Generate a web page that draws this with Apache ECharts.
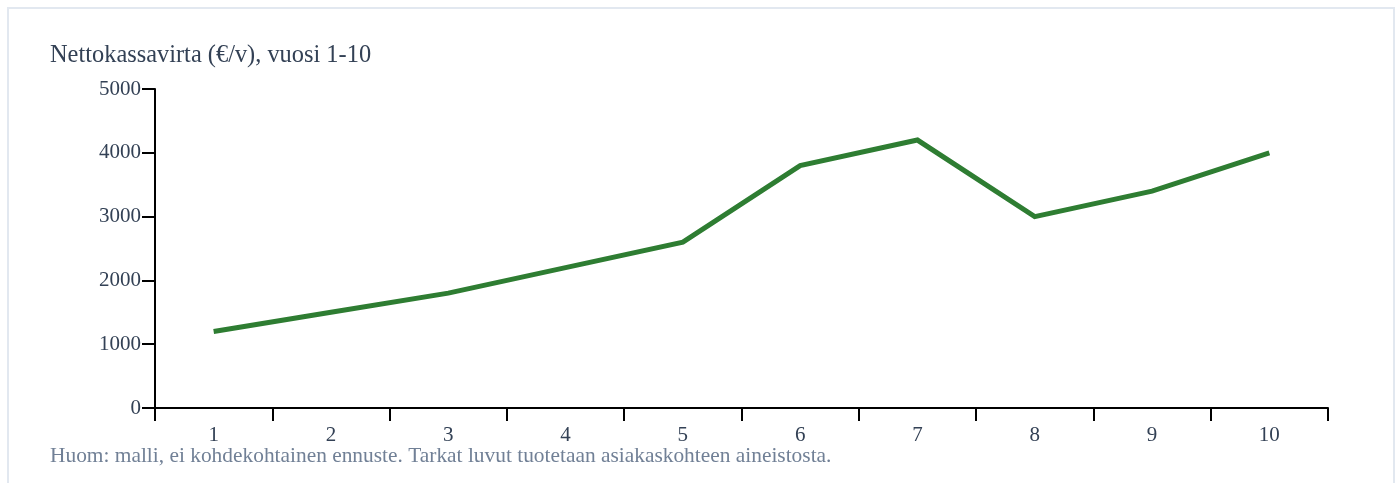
<!DOCTYPE html>
<html>
<head>
<meta charset="utf-8">
<script src="https://cdn.jsdelivr.net/npm/echarts@6/dist/echarts.min.js"></script>
<style>
html,body{margin:0;padding:0;background:#fff;width:1398px;height:483px;overflow:hidden;}
#frame{position:absolute;left:7px;top:7px;width:1384px;height:520px;border:2px solid #e2e8f0;box-sizing:content-box;}
#chart{position:absolute;left:0;top:0;width:1398px;height:483px;}
</style>
</head>
<body>
<div id="frame"></div>
<div id="chart"></div>
<script>
const titleText = 'Nettokassavirta (€/v), vuosi 1-10';
const noteText = 'Huom: malli, ei kohdekohtainen ennuste. Tarkat luvut tuotetaan asiakaskohteen aineistosta.';
const categories = ['1','2','3','4','5','6','7','8','9','10'];
const cashFlow = [1200, 1500, 1800, 2200, 2600, 3800, 4200, 3000, 3400, 4000];
const yTicks = [0, 1000, 2000, 3000, 4000, 5000];

const serif = '"Liberation Serif", "Times New Roman", Times, serif';
const chart = echarts.init(document.getElementById('chart'), null, {renderer:'canvas'});
chart.setOption({
  animation: false,
  backgroundColor: 'transparent',
  title: [
    {text: titleText, left: 50, top: 44, padding: 0,
     textStyle: {fontFamily: serif, fontSize: 24.4, fontWeight: 'normal', color: '#334155'}},
    {text: noteText, left: 50, top: 446, padding: 0,
     textStyle: {fontFamily: serif, fontSize: 21.4, fontWeight: 'normal', color: '#718096'}}
  ],
  grid: {left: 155, right: 70, top: 89, bottom: 75},
  xAxis: {
    type: 'category',
    data: categories,
    boundaryGap: true,
    axisLine: {lineStyle: {color: '#000', width: 2}},
    axisTick: {show: true, length: 13, lineStyle: {color: '#000', width: 2}},
    axisLabel: {margin: 17, fontFamily: serif, fontSize: 21, color: '#334155'},
    splitLine: {show: false}
  },
  yAxis: {
    type: 'value',
    min: yTicks[0],
    max: yTicks[yTicks.length - 1],
    interval: 1000,
    axisLine: {show: true, lineStyle: {color: '#000', width: 2}},
    axisTick: {show: true, length: 13, lineStyle: {color: '#000', width: 2}},
    axisLabel: {margin: 14, fontFamily: serif, fontSize: 21, color: '#334155',
                formatter: function (v) { return String(v); }},
    splitLine: {show: false}
  },
  series: [{
    type: 'line',
    data: cashFlow,
    showSymbol: false,
    symbol: 'none',
    lineStyle: {color: '#2e7d32', width: 5, cap: 'butt', join: 'miter'}
  }]
});
</script>
</body>
</html>
